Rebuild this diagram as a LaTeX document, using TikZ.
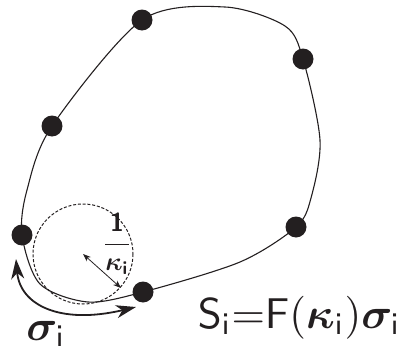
\documentclass[tikz,border=0pt]{standalone}
\usepackage{bm}
\usetikzlibrary{arrows.meta}
\definecolor{ink}{RGB}{35,31,32}
\begin{document}
\begin{tikzpicture}[x=1pt,y=-1pt,
  dot/.style={circle,fill=ink,inner sep=0pt,minimum size=21pt},
  curve/.style={draw=ink,line width=1.1pt},
  lbl/.style={inner sep=0pt,text=ink,transform shape}]
\useasboundingbox (0,0) rectangle (397,359);

% points on the contour
\coordinate (pA) at (142,20);
\coordinate (pB) at (303,59);
\coordinate (pC) at (52,126);
\coordinate (pD) at (22,235);
\coordinate (pE) at (143,292);
\coordinate (pF) at (296,227);

\draw[curve] plot[smooth cycle,tension=0.5] coordinates {(pD) (27,190) (pC) (pA) (225,7) (285,26) (pB) (320,140) (311,198) (pF) (240,262) (pE) (88,302) (40,284)};

% osculating circle
\coordinate (kc) at (83,254);
\draw[ink,line width=1pt,dash pattern=on 3pt off 1.8pt] (kc) circle[radius=50];
\coordinate (kr) at (121,288);
\draw[ink,line width=0.8pt,{Stealth[length=8pt,width=6pt]}-{Stealth[length=8pt,width=6pt]}] (kc) -- (kr);
\node[lbl,scale=2.6,font=\boldmath] (kappa) at (117,244) {$\displaystyle\frac{\mathsf{1}}{\kappa_{\mathsf{i}}}$};

% arc length
\coordinate (sa) at (16,259);
\coordinate (sb) at (136,307);
\draw[ink,line width=1.8pt,{Stealth[length=20pt,width=13pt,inset=6pt]}-{Stealth[length=20pt,width=13pt,inset=6pt]}] (sa) .. controls (20,305) and (60,325) .. (sb);
\node[lbl,scale=4.3] (sigma) at (46,334) {$\bm{\sigma}_{\mathsf{i}}$};

% dots
\foreach \p in {A,B,C,D,E,F}
  \node[dot] (dot\p) at (p\p) {};

\node[lbl,anchor=base west,scale=4.3] (law) at (197,328) {$\mathsf{S}_{\mathsf{i}}{=}\mathsf{F}(\bm{\kappa}_{\mathsf{i}})\bm{\sigma}_{\mathsf{i}}$};
\end{tikzpicture}
\end{document}
